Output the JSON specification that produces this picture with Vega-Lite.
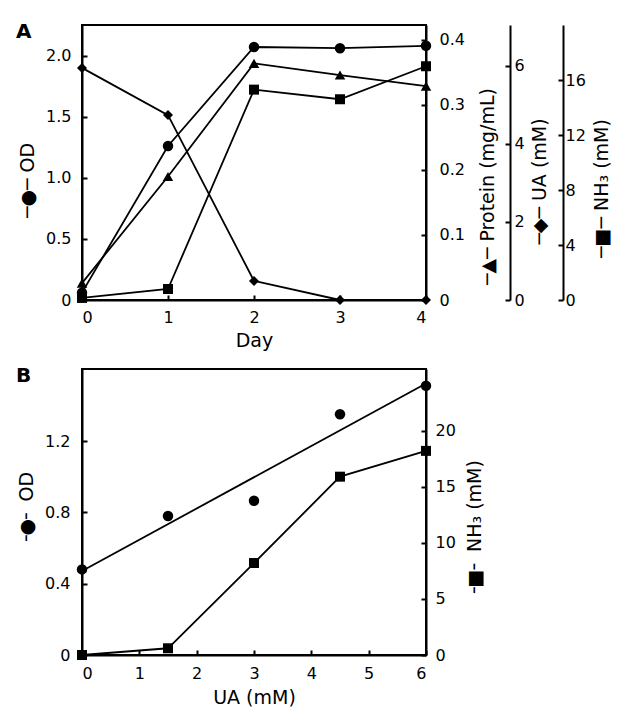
{
  "$schema": "https://vega.github.io/schema/vega-lite/v6.json",
  "padding": {"left": 15, "top": 21, "right": 0, "bottom": 0},
  "background": "white",
  "spacing": 14,
  "config": {
    "font": "DejaVu Sans",
    "view": {"stroke": "black", "strokeWidth": 2},
    "axis": {
      "domainColor": "black", "domainWidth": 2,
      "tickColor": "black", "tickWidth": 2, "tickSize": -5,
      "labelColor": "black", "titleColor": "black",
      "labelFontSize": 16, "titleFontSize": 19, "titleFontWeight": "normal",
      "labelFont": "DejaVu Sans", "titleFont": "DejaVu Sans",
      "grid": false, "titleAlign": "center", "titleBaseline": "middle"
    },
    "line": {"color": "black", "strokeWidth": 1.8},
    "point": {"color": "black", "opacity": 1, "size": 110, "filled": true},
    "title": {"fontSize": 20, "fontWeight": "bold", "anchor": "start", "font": "DejaVu Sans", "color": "black"}
  },
  "datasets": {
    "a": [
      {"day": 0, "od": 0.06, "protein": 0.026, "ua": 5.95, "nh3": 0.15},
      {"day": 1, "od": 1.26, "protein": 0.19, "ua": 4.74, "nh3": 0.8},
      {"day": 2, "od": 2.07, "protein": 0.364, "ua": 0.49, "nh3": 15.3},
      {"day": 3, "od": 2.06, "protein": 0.346, "ua": 0.0, "nh3": 14.6},
      {"day": 4, "od": 2.08, "protein": 0.329, "ua": 0.0, "nh3": 17.0}
    ],
    "b": [
      {"ua": 0, "od": 0.48, "nh3": 0.0},
      {"ua": 1.5, "od": 0.78, "nh3": 0.6},
      {"ua": 3, "od": 0.865, "nh3": 8.2},
      {"ua": 4.5, "od": 1.35, "nh3": 15.9},
      {"ua": 6, "od": 1.51, "nh3": 18.2}
    ]
  },
  "vconcat": [
    {
      "title": {"text": "A", "frame": "group", "dx": -66, "dy": 21},
      "width": 344,
      "height": 275,
      "data": {"name": "a"},
      "encoding": {
        "x": {"field": "day", "type": "quantitative", "scale": {"domain": [0, 4], "nice": false},
              "axis": {"values": [0, 1, 2, 3, 4], "format": "d", "labelPadding": 14, "title": "Day", "titleX": 172, "titleY": 40}}
      },
      "layer": [
        {
          "encoding": {"y": {"field": "od", "type": "quantitative", "scale": {"domain": [0, 2.25], "nice": false},
            "axis": {"orient": "left", "values": [0, 0.5, 1, 1.5, 2], "labelExpr": "datum.value == 0 ? '0' : format(datum.value, '.1f')",
                     "labelPadding": 16, "title": "─●─ OD", "titleAngle": 270, "titleX": -55, "titleY": 155}}},
          "layer": [
            {"mark": {"type": "line"}},
            {"mark": {"type": "point", "shape": "circle"}}
          ]
        },
        {
          "encoding": {"y": {"field": "protein", "type": "quantitative", "scale": {"domain": [0, 0.423], "nice": false},
            "axis": {"orient": "right", "values": [0, 0.1, 0.2, 0.3, 0.4], "labelExpr": "datum.value == 0 ? '0' : format(datum.value, '.1f')",
                     "labelPadding": 18, "title": "─▲─ Protein (mg/mL)", "titleAngle": 270, "titleX": 61, "titleY": 161}}},
          "layer": [
            {"mark": {"type": "line"}},
            {"mark": {"type": "point", "shape": "triangle-up"}}
          ]
        },
        {
          "encoding": {"y": {"field": "ua", "type": "quantitative", "scale": {"domain": [0, 7.05], "nice": false},
            "axis": {"orient": "right", "offset": 84, "values": [0, 2, 4, 6], "labelPadding": 9,
                     "title": "─◆─ UA (mM)", "titleAngle": 270, "titleX": 29, "titleY": 156}}},
          "layer": [
            {"mark": {"type": "line"}},
            {"mark": {"type": "point", "shape": "diamond", "size": 100}}
          ]
        },
        {
          "encoding": {"y": {"field": "nh3", "type": "quantitative", "scale": {"domain": [0, 20], "nice": false},
            "axis": {"orient": "right", "offset": 137, "values": [0, 4, 8, 12, 16], "labelPadding": 7,
                     "title": "─■─ NH₃ (mM)", "titleAngle": 270, "titleX": 38, "titleY": 163}}},
          "layer": [
            {"mark": {"type": "line"}},
            {"mark": {"type": "point", "shape": "square", "size": 100}}
          ]
        }
      ],
      "resolve": {"scale": {"y": "independent"}}
    },
    {
      "title": {"text": "B", "frame": "group", "dx": -66, "dy": 21},
      "width": 344,
      "height": 286,
      "data": {"name": "b"},
      "encoding": {
        "x": {"field": "ua", "type": "quantitative", "scale": {"domain": [0, 6], "nice": false},
              "axis": {"values": [0, 1, 2, 3, 4, 5, 6], "format": "d", "labelPadding": 15, "title": "UA (mM)", "titleX": 172, "titleY": 42}}
      },
      "layer": [
        {
          "encoding": {"y": {"field": "od", "type": "quantitative", "scale": {"domain": [0, 1.604], "nice": false},
            "axis": {"orient": "left", "values": [0, 0.4, 0.8, 1.2], "labelExpr": "datum.value == 0 ? '0' : format(datum.value, '.1f')",
                     "labelPadding": 17, "title": "╶●╴ OD", "titleAngle": 270, "titleX": -56, "titleY": 140}}},
          "layer": [
            {"transform": [{"regression": "od", "on": "ua", "extent": [0, 6]}], "mark": {"type": "line"}},
            {"mark": {"type": "point", "shape": "circle"}}
          ]
        },
        {
          "encoding": {"y": {"field": "nh3", "type": "quantitative", "scale": {"domain": [0, 25.5], "nice": false},
            "axis": {"orient": "right", "values": [0, 5, 10, 15, 20], "labelPadding": 14,
                     "title": "╶■╴ NH₃ (mM)", "titleAngle": 270, "titleX": 48, "titleY": 160}}},
          "layer": [
            {"mark": {"type": "line"}},
            {"mark": {"type": "point", "shape": "square", "size": 100}}
          ]
        }
      ],
      "resolve": {"scale": {"y": "independent"}}
    }
  ]
}
